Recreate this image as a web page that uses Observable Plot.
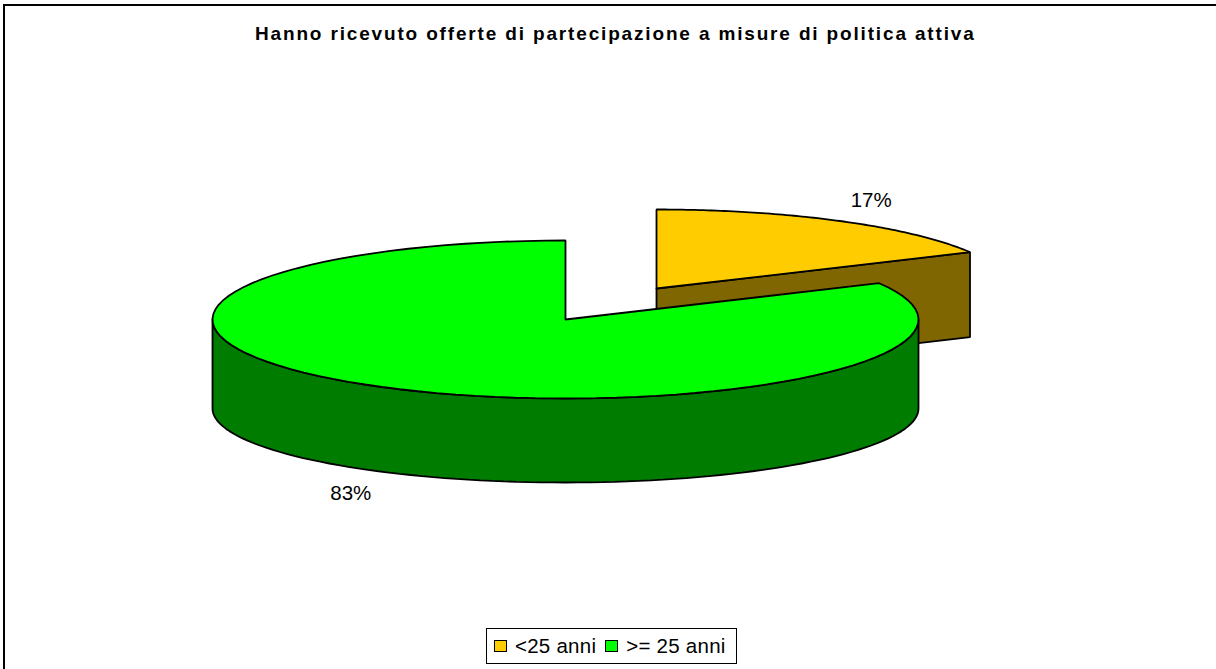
<!DOCTYPE html>
<html>
<head>
<meta charset="utf-8">
<script src="https://cdn.jsdelivr.net/npm/d3@7"></script>
<script src="https://cdn.jsdelivr.net/npm/@observablehq/plot@0.6"></script>
<style>
  html, body { margin: 0; padding: 0; background: #fff; }
  #page { position: relative; width: 1216px; height: 669px; overflow: hidden; font-family: "Liberation Sans", Arial, sans-serif; color: #000; }
  #frame { position: absolute; left: 3px; top: 4px; width: 1213px; height: 665px; border-top: 2px solid #000; border-left: 2px solid #000; box-sizing: border-box; pointer-events: none; }
  #title { height: 52px; box-sizing: border-box; padding-top: 24px; padding-left: 255px; font-size: 19px; line-height: 20px; font-weight: bold; letter-spacing: 1.84px; white-space: nowrap; }
  #chart svg { display: block; }
  #legendRow { height: 49px; box-sizing: border-box; padding-top: 8px; padding-left: 486px; }
  #legend { display: flex; align-items: center; width: 251px; height: 36px; box-sizing: border-box; border: 1px solid #000; padding-left: 7px; font-size: 20.5px; letter-spacing: 0.25px; white-space: nowrap; }
  .sw { display: inline-block; width: 13px; height: 12px; box-sizing: border-box; border: 1.5px solid #000; margin-right: 8px; }
  .lab { margin-right: 9px; }
</style>
</head>
<body>
<div id="page">
  <div id="frame"></div>
  <div id="title"></div>
  <div id="chart"></div>
  <div id="legendRow"><div id="legend"></div></div>
</div>
<script>
const chartTitle = "Hanno ricevuto offerte di partecipazione a misure di politica attiva";
const categories = ["<25 anni", ">= 25 anni"];
const shares = [17.4, 82.6];
const shareLabels = ["17%", "83%"];
const topColors = ["#FFCC00", "#00FF00"];
const sideColors = ["#806600", "#007C00"];

// pie geometry, in pixels of the page
const rx = 353, ry = 79, bottomRy = 74, sideDepth = 89, cutDepth = 85, labelDepth = 86;
const mainCentre = [565, 319];
const explodedCentre = [656, 288];
const svgTop = 52, svgHeight = 568;

const rad = d => d * Math.PI / 180;
const onRim = ([cx, cy], t, dy = 0, r = ry) => ({ x: cx + rx * Math.cos(rad(t)), y: cy - r * Math.sin(rad(t)) + dy });
const arc = (c, t0, t1, dy = 0, r = ry) => d3.range(0, 91).map(i => onRim(c, t0 + (t1 - t0) * i / 90, dy, r));
const centre = ([cx, cy], dy = 0) => ({ x: cx, y: cy + dy });

// Slices run clockwise from 12 o'clock: angle measured on the ellipse parameter
const total = d3.sum(shares);
const cut = 90 - 360 * shares[0] / total;   // boundary between the slices

const yellowFace = [centre(explodedCentre), ...arc(explodedCentre, 90, cut), centre(explodedCentre)];
const yellowCut = [
  centre(explodedCentre), onRim(explodedCentre, cut),
  onRim(explodedCentre, cut, cutDepth), centre(explodedCentre, cutDepth), centre(explodedCentre)
];
const greenFace = [centre(mainCentre), ...arc(mainCentre, cut, 90 - 360), centre(mainCentre)];
const greenSide = [...arc(mainCentre, 180, 360), ...arc(mainCentre, 360, 180, sideDepth, bottomRy)];
greenSide.push(greenSide[0]);

const face = (pts, fill) => Plot.line(pts, {
  x: "x", y: "y", fill, stroke: "#000", strokeWidth: 1.8, strokeLinejoin: "miter", curve: "linear"
});

const midYellow = 90 - 180 * shares[0] / total;
const midGreen = cut - 180 * shares[1] / total;
const labelAt = (c, t) => {
  const s = Math.sin(rad(t));
  return {
    x: c[0] + 1.17 * rx * Math.cos(rad(t)),
    y: c[1] - 1.3 * ry * s + (s < 0 ? labelDepth : 0)
  };
};
const labels = [
  { ...labelAt(explodedCentre, midYellow), text: shareLabels[0] },
  { ...labelAt(mainCentre, midGreen), text: shareLabels[1] }
];

const plot = Plot.plot({
  width: 1216,
  height: svgHeight,
  margin: 0,
  style: { background: "transparent", fontFamily: '"Liberation Sans", Arial, sans-serif', color: "#000" },
  x: { type: "linear", domain: [0, 1216], range: [0, 1216], axis: null },
  y: { type: "linear", domain: [svgTop, svgTop + svgHeight], range: [0, svgHeight], axis: null },
  marks: [
    face(yellowCut, sideColors[0]),
    face(yellowFace, topColors[0]),
    face(greenSide, sideColors[1]),
    face(greenFace, topColors[1]),
    Plot.text(labels, { x: "x", y: "y", text: "text", fontSize: 20.5, fill: "#000", textAnchor: "middle", lineAnchor: "middle" })
  ]
});
document.getElementById("chart").appendChild(plot);

document.getElementById("title").textContent = chartTitle;
const legend = document.getElementById("legend");
categories.forEach((c, i) => {
  const sw = document.createElement("span");
  sw.className = "sw";
  sw.style.background = topColors[i];
  const lab = document.createElement("span");
  lab.className = "lab";
  lab.textContent = c;
  legend.append(sw, lab);
});
</script>
</body>
</html>
